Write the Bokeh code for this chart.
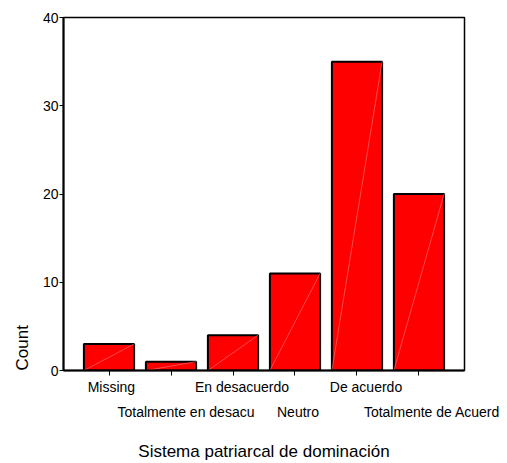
import math
from bokeh.plotting import figure
from bokeh.models import (Range1d, ColumnDataSource, FixedTicker, LinearAxis,
                          Title, CustomJSTickFormatter)
from bokeh.transform import dodge
from bokeh.embed import file_html
from bokeh.resources import INLINE

# ---- data ----
categories = ["Missing", "Totalmente en desacu", "En desacuerdo",
              "Neutro", "De acuerdo", "Totalmente de Acuerd"]
counts = [3, 1, 4, 11, 35, 20]
y_ticks = [0, 10, 20, 30, 40]
x_title = "Sistema patriarcal de dominación"
y_title = "Count"

# ---- layout / style ----
FONT = "Liberation Sans"
BAR_W = 0.81
PAD = 0.734
PX_PER_UNIT = 62.0
label_shift_px = [2.4, 15, 9, 3, 9, 13]

idx = list(range(len(categories)))
src = ColumnDataSource(dict(x=idx, count=counts))
x_lo, x_hi = -PAD, len(categories) - 1 + PAD

p = figure(width=507, height=463,
           x_range=Range1d(x_lo, x_hi),
           y_range=Range1d(0, 40),
           output_backend="svg", toolbar_location=None, title=None,
           min_border_left=63, min_border_right=43,
           min_border_top=17, min_border_bottom=92)
p.background_fill_color = "white"
p.border_fill_color = "white"
p.outline_line_color = "black"
p.outline_line_width = 1.5
p.xgrid.visible = False
p.ygrid.visible = False

# y axis
ya = p.yaxis[0]
ya.ticker = FixedTicker(ticks=y_ticks, minor_ticks=[])
ya.axis_line_width = 2
ya.axis_line_color = "black"
ya.major_tick_out = 4
ya.major_tick_in = 0
ya.minor_tick_out = 0
ya.minor_tick_in = 0
ya.major_tick_line_color = "black"
ya.major_label_text_font = FONT
ya.major_label_text_font_size = "14px"
ya.major_label_text_color = "black"
ya.major_label_standoff = 1

fmt = CustomJSTickFormatter(args=dict(labels=categories),
                            code="return labels[Math.round(tick)];")


def shifted(rows):
    return [i + label_shift_px[i] / PX_PER_UNIT for i in rows]


row1 = idx[0::2]
row2 = idx[1::2]

# x axis 1: line, tick marks (as minor ticks) and first row of labels
xa = p.xaxis[0]
xa.ticker = FixedTicker(ticks=shifted(row1), minor_ticks=idx)
xa.formatter = fmt
xa.axis_line_width = 2
xa.axis_line_color = "black"
xa.major_tick_line_color = None
xa.major_tick_out = 5
xa.major_tick_in = 0
xa.minor_tick_line_color = "black"
xa.minor_tick_out = 5
xa.minor_tick_in = 0
xa.major_label_text_font = FONT
xa.major_label_text_font_size = "14px"
xa.major_label_text_color = "black"
xa.major_label_standoff = 3

# x axis 2: second row of labels + axis title
xb = LinearAxis(ticker=FixedTicker(ticks=shifted(row2), minor_ticks=[]),
                formatter=fmt, axis_label=x_title)
xb.axis_line_color = None
xb.major_tick_line_color = None
xb.minor_tick_line_color = None
xb.major_tick_out = 0
xb.major_tick_in = 0
xb.major_label_text_font = FONT
xb.major_label_text_font_size = "14px"
xb.major_label_text_color = "black"
xb.major_label_standoff = 6
xb.axis_label_text_font = FONT
xb.axis_label_text_font_size = "17px"
xb.axis_label_text_font_style = "normal"
xb.axis_label_text_color = "black"
xb.axis_label_standoff = 19
p.add_layout(xb, "below")

# y title
p.add_layout(Title(text=y_title, align="left", offset=0,
                   text_font=FONT, text_font_size="17px",
                   text_font_style="normal", text_color="black",
                   standoff=16), "left")

# bars
p.vbar(x="x", top="count", width=BAR_W, source=src,
       fill_color="#ff0000", line_color="black", line_width=2)
# faint diagonal inside each bar
p.segment(x0=dodge("x", -BAR_W / 2), y0=0,
          x1=dodge("x", BAR_W / 2), y1="count",
          source=src, line_color="#ff6a6a", line_width=0.7)

open("out.html", "w").write(file_html(p, INLINE))
